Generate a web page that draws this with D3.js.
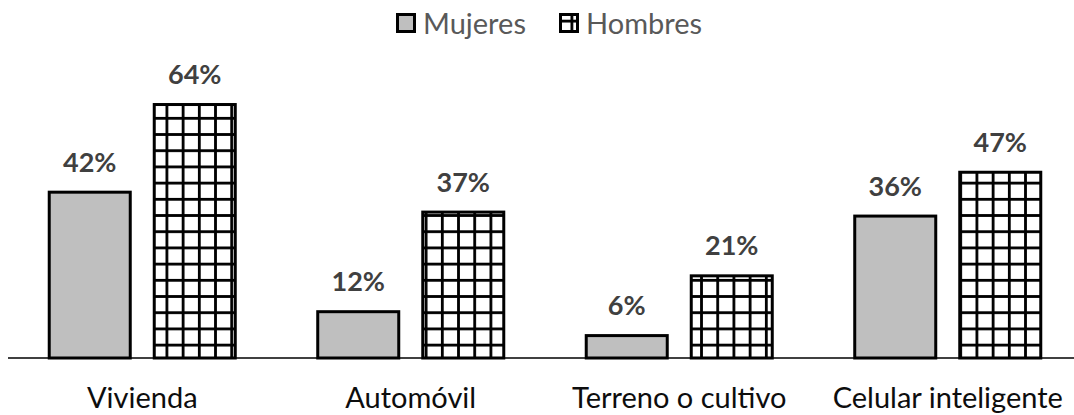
<!DOCTYPE html>
<html><head><meta charset="utf-8">
<script src="https://cdn.jsdelivr.net/npm/d3@7"></script>
<style>html,body{margin:0;padding:0;background:#fff;}svg{display:block;}</style>
</head><body>
<svg id="chart" width="1074" height="415"></svg>
<script>
const categories = ["Vivienda", "Automóvil", "Terreno o cultivo", "Celular inteligente"];
const seriesNames = ["Mujeres", "Hombres"];
const mujeres = [0.42, 0.12, 0.06, 0.36];
const hombres = [0.64, 0.37, 0.21, 0.47];
const valueLabels = [["42%","12%","6%","36%"],["64%","37%","21%","47%"]];

const svg = d3.select("#chart");
const W = 1074, H = 415;
const base = 358;
const font = "Lato, 'Open Sans', sans-serif";

const x0 = d3.scaleBand().domain(categories).range([8, 1082]).paddingInner(0.296).paddingOuter(0.148);
const x1 = d3.scaleBand().domain(seriesNames).range([0, x0.bandwidth()]).paddingInner(0.2).paddingOuter(0);
const y = d3.scaleLinear().domain([0, 1]).range([base, base - 398.4]);

const defs = svg.append("defs");
const cell = 16.2;
const pat = defs.append("pattern").attr("id", "grid").attr("patternUnits", "userSpaceOnUse")
  .attr("width", cell).attr("height", cell).attr("x", 3.5).attr("y", 3.5);
pat.append("rect").attr("width", cell).attr("height", cell).attr("fill", "#fff");
pat.append("rect").attr("x", 0).attr("y", 0).attr("width", 2.8).attr("height", cell).attr("fill", "#000");
pat.append("rect").attr("x", 0).attr("y", 0).attr("width", cell).attr("height", 2.8).attr("fill", "#000");

const fills = {Mujeres: "#bfbfbf", Hombres: "url(#grid)"};
const seriesData = [mujeres, hombres];

// axis line
svg.append("line").attr("x1", 8).attr("x2", W).attr("y1", base).attr("y2", base)
  .attr("stroke", "#000").attr("stroke-width", 1.5);

seriesNames.forEach((s, si) => {
  const g = svg.append("g");
  g.selectAll("rect").data(categories).join("rect")
    .attr("x", (c) => x0(c) + x1(s) + 1.5)
    .attr("y", (c, i) => y(seriesData[si][i]) + 1.5)
    .attr("width", x1.bandwidth() - 3)
    .attr("height", (c, i) => base - y(seriesData[si][i]) - 1.5)
    .attr("fill", fills[s]).attr("stroke", "#000").attr("stroke-width", 3);
  g.selectAll("text").data(categories).join("text")
    .attr("x", (c) => x0(c) + x1(s) + x1.bandwidth() / 2)
    .attr("y", (c, i) => y(seriesData[si][i]) - 19)
    .attr("text-anchor", "middle")
    .attr("font-family", font).attr("font-weight", "bold").attr("font-size", 27)
    .attr("fill", "#404040")
    .text((c, i) => valueLabels[si][i]);
});

// category labels
svg.append("g").selectAll("text").data(categories).join("text")
  .attr("x", (c) => x0(c) + x0.bandwidth() / 2)
  .attr("y", 408)
  .attr("text-anchor", "middle")
  .attr("font-family", font).attr("font-size", 29).attr("fill", "#0d0d0d")
  .text((c) => c);

// legend
const legendX = [396, 559];
const lg = svg.append("g");
seriesNames.forEach((s, i) => {
  lg.append("rect").attr("x", legendX[i] + 1.5).attr("y", 14.5).attr("width", 17).attr("height", 17)
    .attr("fill", i === 0 ? "#bfbfbf" : "url(#grid)").attr("stroke", "#000").attr("stroke-width", 3);
  lg.append("text").attr("x", legendX[i] + 27).attr("y", 34)
    .attr("font-family", font).attr("font-size", 29).attr("fill", "#595959").text(s);
});
</script>
</body></html>
